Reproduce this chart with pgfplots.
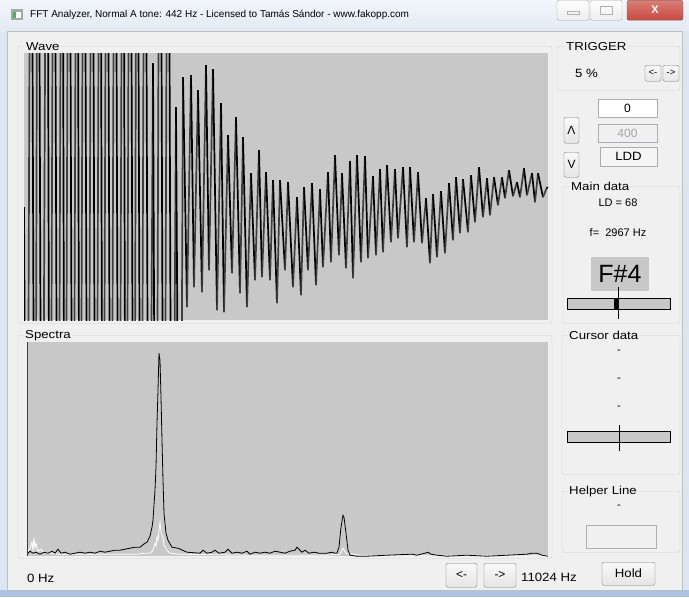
\documentclass[border=0pt]{standalone}
\usepackage{fontspec}
\setmainfont{Liberation Sans}
\usepackage{graphicx}
\usepackage{pgfplots}
\pgfplotsset{compat=1.18}
\definecolor{winbg}{HTML}{F0F0F0}
\definecolor{plotbg}{HTML}{C8C8C8}
\definecolor{grpline}{HTML}{CDD3D8}
\definecolor{framec}{HTML}{DCE6F3}
\definecolor{titletop}{HTML}{F3F6FB}
\definecolor{titlebot}{HTML}{E2EAF5}
\definecolor{waveg}{HTML}{3E3E3E}
\definecolor{btnedge}{HTML}{707070}
\definecolor{boxedge}{HTML}{ABADB3}
\definecolor{closered}{HTML}{C9483D}
\definecolor{bottomblue}{HTML}{A9C3E2}
\newcommand{\sx}[2][1.15]{\scalebox{#1}[1]{#2}}
\tikzset{
  btn/.style={draw=btnedge, rounded corners=1.5pt, top color=white!95!gray, bottom color=gray!20},
  grp/.style={draw=grpline, rounded corners=2pt},
  glabel/.style={anchor=west, fill=winbg, inner sep=1pt, font=\fontsize{11.5}{13}\selectfont},
  ui/.style={font=\fontsize{11}{13}\selectfont, inner sep=0pt},
  uib/.style={font=\fontsize{12}{14}\selectfont, inner sep=0pt},
}
\begin{document}
\begin{tikzpicture}[x=1pt,y=-1pt]
% window frame
\fill[framec] (0,0) rectangle (689,597);
\shade[top color=titletop, bottom color=titlebot] (0,0) rectangle (689,31);
\fill[bottomblue] (0,590) rectangle (689,597);
\fill[winbg] (7,31) rectangle (682,590);
\draw[gray!50] (7,31) rectangle (682,590);
% title icon and text
\fill[gray!70] (11,9) rectangle (23,20);
\fill[white] (13,12) rectangle (21,18);
\fill[green!40!gray] (13,12) rectangle (16,18);
\node[anchor=west, inner sep=0pt, font=\fontsize{10}{12}\selectfont] at (30,15) {FFT Analyzer, Normal A tone: 442 Hz - Licensed to Tamás Sándor - www.fakopp.com};
% caption buttons
\draw[gray!70, rounded corners=2pt, top color=white, bottom color=gray!15] (557,0) rectangle (589,20);
\draw[gray!70, rounded corners=2pt, top color=white, bottom color=gray!15] (590,0) rectangle (622,20);
\draw[gray!60, thick] (567,11) rectangle (579,14);
\draw[gray!60, thick] (600,6) rectangle (612,14);
\draw[black!60, rounded corners=2pt, top color=closered!70, bottom color=closered] (627,0) rectangle (683,20);
\node[white, font=\bfseries\fontsize{11}{12}\selectfont] at (655,10) {X};
% ===== Wave group =====
\draw[grp] (18,46) rectangle (552,323);
\node[glabel] at (25,46) {\sx{Wave}};
\begin{axis}[at={(24pt,-53pt)}, anchor=north west, width=524pt, height=267pt, scale only axis,
  xmin=0, xmax=524, ymin=0, ymax=267, ticks=none, axis line style={draw=none},
  axis background/.style={fill=plotbg},
  colormap={wavecm}{color=(waveg) color=(black)}]
\addplot[mesh, shader=flat corner, point meta=explicit, line width=1.7pt] table[x index=0, y index=1, meta index=2] {
0 113 1
3 -430 0
7 700 1
11 -430 0
14 700 1
18 -430 0
23 700 1
26 -430 0
30 700 1
34 -430 0
38 700 1
41 -430 0
45 700 1
49 -430 0
53 700 1
56 -430 0
60 700 1
64 -430 0
68 700 1
72 -430 0
76 700 1
79 -430 0
83 700 1
87 -430 0
91 700 1
95 -430 0
99 700 1
102 -430 0
106 700 1
110 -430 0
113 700 1
117 -430 0
121 700 1
125 -430 0
129 257 1
132 -430 0
136 700 1
140 -430 0
144 700 1
148 -430 0
152 213 1
156 -430 0
159 243 1
163 13 0
167 245 1
170 33 0
174 230 1
178 28 0
182 255 1
185 50 0
189 251 1
193 10 0
197 217 1
200 8 0
204 185 1
208 47 0
212 203 1
216 27 0
219 183 1
223 13 0
227 147 1
231 40 0
235 170 1
238 43 0
242 148 1
246 40 0
249 140 1
253 17 0
256 140 1
261 50 0
264 138 1
269 33 0
273 123 1
277 25 0
280 133 1
284 50 0
288 137 1
292 35 0
296 131 1
299 53 0
304 148 1
307 58 0
311 165 1
315 65 0
318 147 1
322 52 0
326 159 1
329 42 0
333 165 1
337 58 0
341 164 1
344 62 0
349 144 1
352 65 0
356 151 1
359 68 0
363 155 1
367 78 0
371 151 1
374 82 0
379 153 1
383 73 0
386 153 1
390 78 0
394 148 1
398 77 0
402 122 1
406 57 0
409 126 1
413 63 0
417 129 1
421 67 0
425 137 1
429 80 0
432 143 1
436 87 0
439 141 1
444 88 0
447 145 1
451 98 0
455 153 1
459 103 0
463 142 1
466 105 0
470 143 1
474 115 0
478 143 1
481 122 0
485 150 1
489 124 0
493 138 1
496 123 0
500 152 1
503 125 0
508 147 1
511 118 0
514 147 1
519 123 0
523 133 1
524 132 0
};
\end{axis}
% ===== Spectra group =====
\draw[grp] (18,335) rectangle (552,558);
\node[glabel] at (24,335) {\sx{Spectra}};
\begin{axis}[at={(27pt,-342pt)}, anchor=north west, width=521pt, height=214pt, scale only axis,
  xmin=0, xmax=521, ymin=0, ymax=214, ticks=none, axis line style={draw=none},
  axis background/.style={fill=plotbg}]
\addplot[white, line width=0.8pt] coordinates {
(0,3) (3,8) (5,14) (6,6) (7,18) (8,8) (9,13) (11,5) (14,7) (17,4) (23,3) (33,2) (60,2) (90,2) (110,2) (118,3)
(123,3) (126,6) (128,13) (129,10) (130,19) (131,16) (133,34) (134,24) (136,19) (137,11) (140,6) (143,3)
(153,2) (223,1) (300,1) (313,2) (316,8) (319,3) (333,1) (521,1)};
\addplot[black, line width=0.8pt] coordinates {
(0,2) (3,5) (6,3) (9,4) (13,2) (17,4) (21,3) (25,5) (28,3) (31,7) (34,3) (38,4) (43,2) (48,3) (53,4) (58,3)
(63,4) (68,3) (73,5) (78,4) (83,5) (88,6) (93,6) (98,7) (103,8) (108,9) (113,9) (118,13) (120,14) (123,20)
(125,29) (126,36) (128,66) (129,89) (130,133) (131,166) (132,203) (133,196) (134,159) (135,116) (136,76)
(137,43) (139,23) (141,16) (145,9) (151,8) (160,4) (173,3) (176,6) (180,3) (185,4) (188,6) (192,3) (198,4)
(201,7) (205,3) (210,4) (215,3) (220,5) (223,2) (228,4) (233,3) (238,4) (243,3) (248,5) (253,4) (258,3)
(263,5) (268,6) (270,9) (272,7) (275,4) (278,6) (282,3) (287,4) (292,3) (300,3) (305,4) (308,3) (310,3)
(312,9) (314,29) (316,41) (317,39) (319,23) (321,6) (323,1) (330,0) (340,0) (360,1) (385,2) (390,1)
(398,3) (401,4) (404,2) (410,1) (420,0) (440,1) (460,0) (480,1) (500,2) (505,3) (510,3) (515,1) (521,0)};
\end{axis}
\draw[black!75, line width=1pt] (27.5,342) -- (27.5,556);
% bottom bar
\node[uib, anchor=west] at (27,578) {\sx[1.1]{0 Hz}};
\draw[btn] (446,563) rectangle (477,587);
\node[uib] at (461.5,575) {<-};
\draw[btn] (484,563) rectangle (516,587);
\node[uib] at (500,575) {->};
\node[uib, anchor=west] at (521,577) {\sx[1.1]{11024 Hz}};
\draw[btn] (602,562) rectangle (655,585);
\node[uib] at (628.5,573.5) {\sx[1.1]{Hold}};
% ===== TRIGGER =====
\draw[grp] (557,46) rectangle (680,90);
\node[glabel] at (565,46) {\sx{TRIGGER}};
\node[uib, anchor=west] at (575,73) {\sx[1.1]{5 \%}};
\draw[btn] (645,65) rectangle (661,81);
\node[ui, font=\fontsize{9.5}{10}\selectfont] at (653,72.5) {<-};
\draw[btn] (663,65) rectangle (679,81);
\node[ui, font=\fontsize{9.5}{10}\selectfont] at (671,72.5) {->};
% text boxes
\draw[boxedge, fill=white] (598,99) rectangle (657,117);
\node[uib] at (627.5,108) {0};
\draw[boxedge, fill=winbg] (598,124) rectangle (657,142);
\node[uib, text=gray!70] at (627.5,133) {400};
\draw[boxedge, fill=gray!8] (600,147) rectangle (657,166);
\node[uib] at (628.5,156.5) {\sx[1.1]{LDD}};
\draw[btn] (564,117) rectangle (579,143);
\node[uib] at (571.5,130) {Λ};
\draw[btn] (564,152) rectangle (579,177);
\node[uib] at (571.5,164.5) {V};
% ===== Main data =====
\draw[grp] (563,186) rectangle (680,323);
\node[glabel] at (570,186) {\sx{Main data}};
\node[ui] at (618,203) {LD = 68};
\node[ui] at (618,232) {f=\ \ 2967 Hz};
\fill[plotbg] (591,257) rectangle (649,291);
\node[inner sep=0pt, font=\fontsize{25}{28}\selectfont] at (620,274) {F\#4};
\draw[black, fill=plotbg] (567,298) rectangle (670,309);
\fill[black] (614,298) rectangle (619,309);
\draw[black, line width=1pt] (618,287) -- (618,319);
% ===== Cursor data =====
\draw[grp] (562,335) rectangle (680,474);
\node[glabel] at (568,335) {\sx{Cursor data}};
\node[ui] at (619,352) {-};
\node[ui] at (619,380) {-};
\node[ui] at (619,408) {-};
\draw[black, fill=plotbg] (567,431) rectangle (670,442);
\draw[black, line width=1pt] (619,425) -- (619,451);
% ===== Helper Line =====
\draw[grp] (562,491) rectangle (680,552);
\node[glabel] at (568,491) {\sx{Helper Line}};
\node[ui] at (619,507) {-};
\draw[boxedge, fill=winbg] (586,525) rectangle (656,548);
\end{tikzpicture}
\end{document}
